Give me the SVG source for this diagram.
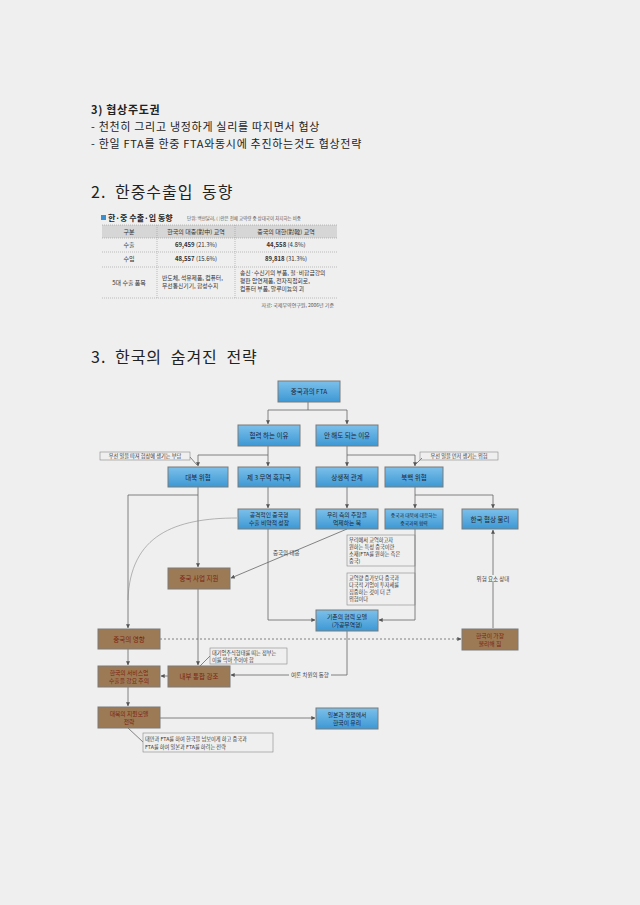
<svg xmlns="http://www.w3.org/2000/svg" width="640" height="905" viewBox="0 0 640 905">
<defs>
<linearGradient id="gb" x1="0" y1="0" x2="0" y2="1">
<stop offset="0" stop-color="#7cc0ea"/><stop offset="1" stop-color="#3d98d4"/>
</linearGradient>
<marker id="ar" viewBox="0 0 6 6" refX="5.5" refY="3" markerWidth="5" markerHeight="5" orient="auto">
<path d="M0,0 L6,3 L0,6 z" fill="#555"/>
</marker>
<style>
text{font-family:"Noto Sans CJK KR","Liberation Sans",sans-serif;}
.p{font-size:11px;fill:#222;letter-spacing:0.7px;}
.h{font-size:16px;fill:#222;word-spacing:4px;letter-spacing:1px;}
.bn{fill:url(#gb);stroke:#7a7a7a;stroke-width:1;}
.rn{fill:#9b7a55;stroke:#7a7a7a;stroke-width:1;}
.bt{font-size:6.5px;fill:#1d2535;text-anchor:middle;}
.rt{font-size:6.5px;fill:#7d2410;text-anchor:middle;}
.bt.s2,.rt.s2{font-size:5.8px;}
.bt.s3{font-size:4.8px;}
.c{stroke:#666;stroke-width:0.8;fill:none;}
.ca{stroke:#666;stroke-width:0.8;fill:none;marker-end:url(#ar);}
.nb{fill:none;stroke:#888;stroke-width:0.6;}
.nt{font-size:5.2px;fill:#333;}
.lb{font-size:5.5px;fill:#444;}
.tt{font-size:6px;fill:#333;text-anchor:middle;}
.tl{stroke:#999;stroke-width:0.6;stroke-dasharray:1 1;}
</style>
</defs>
<rect width="640" height="905" fill="#efefef"/>

<g id="intro">
<text x="91" y="114" class="p" font-weight="bold">3) 협상주도권</text>
<text x="91" y="131" class="p">- 천천히 그리고 냉정하게 실리를 따지면서 협상</text>
<text x="91" y="148" class="p">- 한일 FTA를 한중 FTA와동시에 추진하는것도 협상전략</text>
</g>

<g id="heading2"><text x="91" y="198" class="h">2. 한중수출입 동향</text></g>

<g id="table">
<rect x="101" y="215" width="5" height="5" fill="#3b8fd0"/>
<text x="108" y="221" font-size="8" font-weight="bold" fill="#222">한·중 수출·입 동향</text>
<text x="187" y="220" font-size="4.5" fill="#555">단위: 백만달러, ( )안은 전체 교역량 중 상대국이 차지하는 비중</text>
<rect x="102" y="225" width="235" height="13" fill="#d6d6d6"/>
<line x1="102" y1="225" x2="337" y2="225" class="tl"/>
<line x1="102" y1="238" x2="337" y2="238" class="tl"/>
<line x1="102" y1="252" x2="337" y2="252" class="tl"/>
<line x1="102" y1="267" x2="337" y2="267" class="tl"/>
<line x1="102" y1="298" x2="337" y2="298" class="tl"/>
<line x1="157" y1="225" x2="157" y2="298" class="tl"/>
<line x1="235" y1="225" x2="235" y2="298" class="tl"/>
<text x="129" y="234" class="tt">구분</text>
<text x="196" y="234" class="tt">한국의 대중(對中) 교역</text>
<text x="286" y="234" class="tt">중국의 대한(對韓) 교역</text>
<text x="129" y="247" class="tt">수출</text>
<text x="196" y="247" class="tt"><tspan font-weight="bold">69,459</tspan> (21.3%)</text>
<text x="286" y="247" class="tt"><tspan font-weight="bold">44,558</tspan> (4.8%)</text>
<text x="129" y="261" class="tt">수입</text>
<text x="196" y="261" class="tt"><tspan font-weight="bold">48,557</tspan> (15.6%)</text>
<text x="286" y="261" class="tt"><tspan font-weight="bold">89,818</tspan> (31.3%)</text>
<text x="129" y="285" class="tt">5대 수출 품목</text>
<text x="162" y="280" font-size="5.8" fill="#333">반도체, 석유제품, 컴퓨터,</text>
<text x="162" y="288" font-size="5.8" fill="#333">무선통신기기, 합성수지</text>
<text x="240" y="275" font-size="5.8" fill="#333">송신·수신기의 부품, 철·비합금강의</text>
<text x="240" y="283" font-size="5.8" fill="#333">평판 압연제품, 전자직접회로,</text>
<text x="240" y="291" font-size="5.8" fill="#333">컴퓨터 부품, 알루미늄의 괴</text>
<text x="334" y="307" font-size="5" fill="#555" text-anchor="end">자료: 국제무역연구원, 2006년 기준</text>
</g>

<g id="heading3"><text x="91" y="363" class="h">3. 한국의 숨겨진 전략</text></g>

<g id="connectors">
<path class="c" d="M308 402 V410"/>
<path class="ca" d="M308 410 H268 V424"/>
<path class="ca" d="M308 410 H347 V424"/>
<path class="ca" d="M268 446 V455 H198 V466"/>
<path class="ca" d="M268 455 V466"/>
<path class="ca" d="M347 446 V455 H415 V466"/>
<path class="ca" d="M347 455 V466"/>
<path class="c" d="M190 457 L197 465"/>
<path class="c" d="M422 458 L415 465"/>
<path class="ca" d="M268 487 V508"/>
<path class="ca" d="M347 487 V508"/>
<path class="ca" d="M415 487 V495 H493 V508"/>
<path class="ca" d="M415 495 V508"/>
<path class="ca" d="M198 487 V495 H128 V628"/>
<path class="ca" d="M198 495 V567"/>
<path d="M237 518 C175 518 130 535 128 600" fill="none" stroke="#888" stroke-width="0.6"/>
<path class="ca" d="M347 529 L231 578"/>
<path class="ca" d="M268 529 V620 H315"/>
<path class="ca" d="M415 529 V620 H379"/>
<path class="ca" d="M493 628 V530"/>
<path class="ca" d="M160 639 H461" stroke-dasharray="2 2"/>
<path class="ca" d="M198 589 V665"/>
<path class="ca" d="M128 649 V665"/>
<path class="ca" d="M168 676 H161"/>
<path class="c" d="M210 656 L200 666"/>
<path class="ca" d="M347 631 V675 H231"/>
<path class="ca" d="M128 687 V706"/>
<path class="ca" d="M160 718 H315"/>
<path class="c" d="M128 728 L143 742"/>
<rect x="478" y="575" width="30" height="7" fill="#efefef"/>
<text x="493" y="580.5" class="lb" text-anchor="middle">위험 요소 상대</text>
<text x="273" y="555" class="lb">중국의 대응</text>
<rect x="289" y="671.5" width="42" height="7" fill="#efefef"/>
<text x="310" y="677" class="lb" text-anchor="middle">여론 차원의 동향</text>
</g>

<g id="n_top"><rect x="278" y="381" width="62" height="21" class="bn"/><text x="309" y="394" class="bt">중국과의 FTA</text></g>
<g id="n_why"><rect x="238" y="425" width="62" height="21" class="bn"/><text x="269" y="438" class="bt">협력 하는 이유</text></g>
<g id="n_whynot"><rect x="316" y="425" width="62" height="21" class="bn"/><text x="347" y="438" class="bt">안 해도 되는 이유</text></g>

<g id="note_left"><rect x="100" y="452" width="90" height="8" class="nb"/><text x="145" y="458.3" class="nt" text-anchor="middle">우선 일을 따져 협상에 생기는 부담</text></g>
<g id="note_right"><rect x="420" y="452" width="78" height="8" class="nb"/><text x="459" y="458.3" class="nt" text-anchor="middle">우선 일을 먼저 생기는 위험</text></g>

<g id="n_dbk"><rect x="168" y="467" width="60" height="20" class="bn"/><text x="198" y="479.5" class="bt">대북 위협</text></g>
<g id="n_3rd"><rect x="238" y="467" width="62" height="20" class="bn"/><text x="269" y="479.5" class="bt">제 3 무역 흑자국</text></g>
<g id="n_ss"><rect x="316" y="467" width="62" height="20" class="bn"/><text x="347" y="479.5" class="bt">상생적 관계</text></g>
<g id="n_nk"><rect x="385" y="467" width="58" height="20" class="bn"/><text x="414" y="479.5" class="bt">북핵 위협</text></g>

<g id="n_atk"><rect x="238" y="509" width="62" height="20" class="bn"/><text x="269" y="517" class="bt s2">공격적인 중국형</text><text x="269" y="525" class="bt s2">수출 비약적 성장</text></g>
<g id="n_our"><rect x="316" y="509" width="62" height="20" class="bn"/><text x="347" y="517" class="bt s2">우리 측의 주장을</text><text x="347" y="525" class="bt s2">억제하는 북</text></g>
<g id="n_cn"><rect x="385" y="509" width="58" height="20" class="bn"/><text x="414" y="516.5" class="bt s3">중국과 대북에 대응하는</text><text x="414" y="524.5" class="bt s3">중국과의 협력</text></g>
<g id="n_kr"><rect x="462" y="509" width="56" height="20" class="bn"/><text x="490" y="521.5" class="bt">한국 협상 불리</text></g>

<g id="note_a"><rect x="347" y="535" width="68" height="31" class="nb"/>
<text x="349" y="542" class="nt">우리에서 교역하고자</text><text x="349" y="549" class="nt">원하는 특성 중국이란</text><text x="349" y="556" class="nt">소재(FTA를 원하는 측은</text><text x="349" y="563" class="nt">중국)</text></g>
<g id="note_b"><rect x="347" y="573" width="68" height="32" class="nb"/>
<text x="349" y="580" class="nt">교역량 증가보다 중국과</text><text x="349" y="587" class="nt">다국적 기업이 투자세를</text><text x="349" y="594" class="nt">집중하는 것이 더 큰</text><text x="349" y="601" class="nt">위협이다</text></g>

<g id="n_sup"><rect x="168" y="568" width="62" height="21" class="rn"/><text x="199" y="581" class="rt">중국 사업 지원</text></g>
<g id="n_base"><rect x="316" y="610" width="62" height="21" class="bn"/><text x="347" y="619" class="bt s2">기존의 협력 모델</text><text x="347" y="627" class="bt s2">(가공무역형)</text></g>
<g id="n_inf"><rect x="98" y="629" width="62" height="20" class="rn"/><text x="129" y="641.5" class="rt">중국의 영향</text></g>
<g id="n_krbad"><rect x="462" y="629" width="56" height="21" class="rn"/><text x="490" y="638" class="rt s2">한국이 가장</text><text x="490" y="646" class="rt s2">불리해 짐</text></g>

<g id="note_c"><rect x="210" y="648" width="77" height="16" class="nb"/><text x="212" y="655" class="nt">대기업주식형태를 띠는 정부는</text><text x="212" y="662" class="nt">이를 막아 주어야 함</text></g>

<g id="n_svc"><rect x="98" y="666" width="62" height="21" class="rn"/><text x="129" y="675" class="rt s2">한국의 서비스업</text><text x="129" y="683" class="rt s2">수출을 강요 주의</text></g>
<g id="n_int"><rect x="168" y="666" width="62" height="21" class="rn"/><text x="199" y="679" class="rt">내부 통합 강조</text></g>
<g id="n_model"><rect x="98" y="707" width="62" height="21" class="rn"/><text x="129" y="716" class="rt s2">대북의 지원모델</text><text x="129" y="724" class="rt s2">전략</text></g>
<g id="n_jp"><rect x="316" y="708" width="62" height="21" class="bn"/><text x="347" y="717" class="bt s2">일본과 경쟁에서</text><text x="347" y="725" class="bt s2">한국이 유리</text></g>
<g id="note_d"><rect x="143" y="733" width="130" height="19" class="nb"/><text x="145" y="741" class="nt">대만과 FTA를 하여 한국을 넘보이게 하고 중국과</text><text x="145" y="749" class="nt">FTA를 하여 일본과 FTA를 하려는 전략</text></g>
</svg>
